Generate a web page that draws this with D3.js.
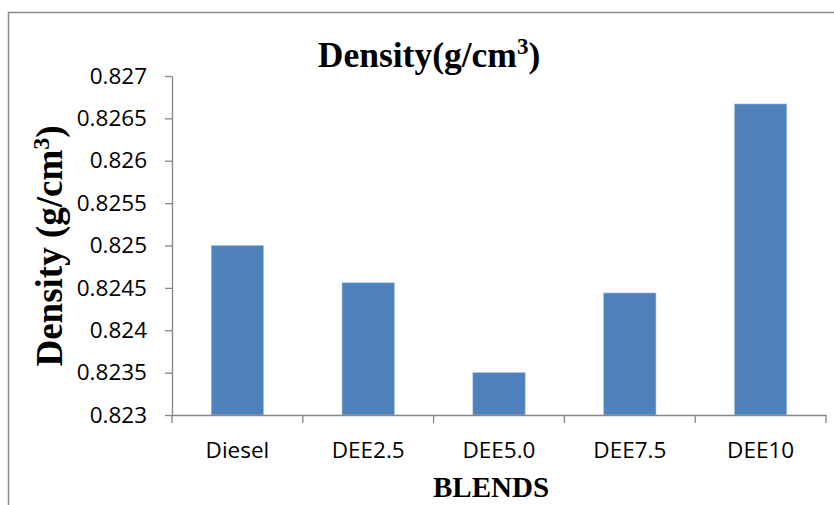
<!DOCTYPE html>
<html>
<head>
<meta charset="utf-8">
<script src="https://cdn.jsdelivr.net/npm/d3@7"></script>
<style>
  html, body { margin: 0; padding: 0; background: #fff; }
  svg { display: block; }
</style>
</head>
<body>
<svg id="chart" width="834" height="505"></svg>
<script>
const categories = ["Diesel", "DEE2.5", "DEE5.0", "DEE7.5", "DEE10"];
const densityValues = [0.8250, 0.82456, 0.8235, 0.82444, 0.82667];
const yTickValues = [0.823, 0.8235, 0.824, 0.8245, 0.825, 0.8255, 0.826, 0.8265, 0.827];
const yTickLabels = ["0.823", "0.8235", "0.824", "0.8245", "0.825", "0.8255", "0.826", "0.8265", "0.827"];

const svg = d3.select("#chart");
const plot = { left: 172, right: 826, top: 76, bottom: 415 };
const axisColor = "#868686";
const labelFont = "'Open Sans', sans-serif";
const serif = "'Liberation Serif', 'Times New Roman', serif";

// outer chart border
svg.append("rect")
  .attr("x", 8.5).attr("y", 12.5)
  .attr("width", 840).attr("height", 510)
  .attr("fill", "none").attr("stroke", "#8a8a8a").attr("stroke-width", 1.5);

const x = d3.scaleBand().domain(categories).range([plot.left, plot.right]).paddingInner(0).paddingOuter(0);
const y = d3.scaleLinear().domain([0.823, 0.827]).range([plot.bottom, plot.top]);

// bars
const barW = x.bandwidth() * 0.4;
svg.append("g").selectAll("rect")
  .data(categories.map((c, i) => ({ c, v: densityValues[i] })))
  .join("rect")
  .attr("x", d => x(d.c) + (x.bandwidth() - barW) / 2)
  .attr("y", d => y(d.v))
  .attr("width", barW)
  .attr("height", d => y(0.823) - y(d.v))
  .attr("fill", "#4F81BD")
  .attr("stroke", "#A9C1DF").attr("stroke-width", 0.6);

// y axis
const yAxis = d3.axisLeft(y).tickValues(yTickValues)
  .tickFormat((d, i) => yTickLabels[i]).tickSize(7).tickSizeOuter(0).tickPadding(18);
const gy = svg.append("g").attr("transform", `translate(${plot.left},0)`).call(yAxis);
gy.select(".domain").attr("stroke", axisColor).attr("stroke-width", 1.3);
gy.selectAll(".tick line").attr("stroke", axisColor).attr("stroke-width", 1.3);
gy.selectAll(".tick text").attr("font-family", labelFont).attr("font-size", 22.5).attr("fill", "#000");

// x axis
const gx = svg.append("g").attr("transform", `translate(0,${plot.bottom})`)
  .call(d3.axisBottom(x).tickSize(0).tickSizeOuter(0).tickPadding(27));
gx.select(".domain").attr("stroke", axisColor).attr("stroke-width", 1.3);
gx.selectAll(".tick text").attr("font-family", labelFont).attr("font-size", 22.5).attr("fill", "#000");
// category boundary ticks
const bounds = categories.map(c => x(c)).concat([plot.right]);
svg.append("g").selectAll("line").data(bounds).join("line")
  .attr("x1", d => d).attr("x2", d => d)
  .attr("y1", plot.bottom).attr("y2", plot.bottom + 8)
  .attr("stroke", axisColor).attr("stroke-width", 1.3);

// title
const title = svg.append("text")
  .attr("x", 429).attr("y", 67)
  .attr("text-anchor", "middle")
  .attr("font-family", serif).attr("font-weight", "bold").attr("font-size", 35.5);
title.append("tspan").text("Density(g/cm");
title.append("tspan").attr("dy", -13).attr("font-size", 23).text("3");
title.append("tspan").attr("dy", 13).text(")");

// y title
const yt = svg.append("text")
  .attr("transform", "translate(62,246) rotate(-90)")
  .attr("text-anchor", "middle")
  .attr("font-family", serif).attr("font-weight", "bold").attr("font-size", 37);
yt.append("tspan").text("Density (g/cm");
yt.append("tspan").attr("dy", -13).attr("font-size", 24).text("3");
yt.append("tspan").attr("dy", 13).text(")");

// x title
svg.append("text")
  .attr("x", 491).attr("y", 497)
  .attr("text-anchor", "middle")
  .attr("font-family", serif).attr("font-weight", "bold").attr("font-size", 29)
  .text("BLENDS");
</script>
</body>
</html>
